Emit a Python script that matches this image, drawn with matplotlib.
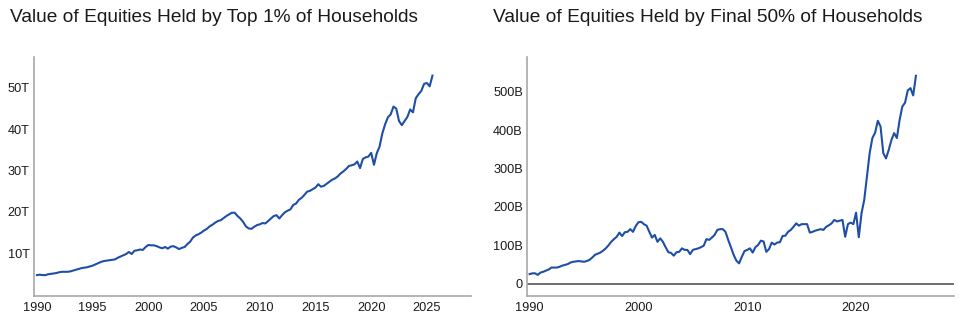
import numpy as np
import matplotlib
matplotlib.use("Agg")
import matplotlib.pyplot as plt
from matplotlib.ticker import FuncFormatter

plt.rcParams['font.family'] = ['Liberation Sans', 'DejaVu Sans']

# Quarterly observations starting 1990.0, step 0.25 year
start_year = 1990.0
top1_trillions = [
    4.7, 4.8, 4.7, 4.7,
    4.9, 5.0, 5.1, 5.2,
    5.4, 5.5, 5.5, 5.5,
    5.6, 5.8, 6.0, 6.2,
    6.4, 6.5, 6.6, 6.8,
    7.0, 7.3, 7.6, 7.9,
    8.1, 8.2, 8.3, 8.4,
    8.5, 8.9, 9.2, 9.5,
    9.8, 10.3, 9.8, 10.6,
    10.7, 10.9, 10.8, 11.5,
    12.0, 11.9, 11.9, 11.7,
    11.4, 11.2, 11.5, 11.1,
    11.6, 11.7, 11.4, 11.0,
    11.3, 11.5, 12.2, 12.8,
    13.8, 14.3, 14.6, 15.0,
    15.5, 15.9, 16.5, 16.9,
    17.4, 17.8, 18.0, 18.5,
    19.0, 19.4, 19.8, 19.8,
    19.0, 18.4, 17.6, 16.5,
    16.0, 15.9, 16.4, 16.8,
    17.0, 17.3, 17.2, 17.8,
    18.4, 19.0, 19.2, 18.4,
    19.2, 19.9, 20.3, 20.6,
    21.7, 22.0, 22.9, 23.4,
    24.1, 24.9, 25.1, 25.5,
    25.9, 26.7, 26.1, 26.3,
    26.8, 27.3, 27.8, 28.1,
    28.6, 29.3, 29.8, 30.4,
    31.1, 31.3, 31.5, 32.2,
    30.6, 32.8, 33.2, 33.4,
    34.3, 31.4, 34.2, 35.8,
    39.0, 41.2, 42.9, 43.6,
    45.5, 45.0, 42.0, 41.0,
    42.0, 43.0, 44.8, 44.1,
    47.5, 48.5, 49.3, 51.0,
    51.2, 50.4, 53.0,
]
bottom50_billions = [
    25, 27, 27, 23,
    29, 31, 34, 37,
    42, 42, 42, 44,
    47, 49, 51, 55,
    57, 58, 59, 58,
    57, 59, 62, 68,
    75, 78, 81, 86,
    92, 100, 109, 116,
    122, 133, 124, 134,
    135, 142, 135, 150,
    160, 161, 155, 151,
    135, 120, 127, 109,
    118, 109, 95, 82,
    80, 73, 82, 83,
    92, 88, 88, 77,
    88, 90, 92, 95,
    99, 116, 114, 120,
    127, 140, 142, 142,
    135, 114, 95, 75,
    60, 53, 70, 85,
    88, 92, 81, 95,
    101, 112, 110, 83,
    90, 107, 102, 107,
    108, 124, 125, 135,
    140, 148, 157, 151,
    155, 155, 155, 133,
    135, 138, 140, 142,
    140, 148, 152, 157,
    166, 162, 164, 166,
    122, 155, 159, 155,
    185, 121, 183, 218,
    279, 340, 379, 393,
    424, 409, 340, 326,
    348, 374, 392, 379,
    426, 461, 471, 503,
    509, 490, 541,
]

left_title = "Value of Equities Held by Top 1% of Households"
right_title = "Value of Equities Held by Final 50% of Households"
left_xticks = [1990, 1995, 2000, 2005, 2010, 2015, 2020, 2025]
right_xticks = [1990, 2000, 2010, 2020]
left_yticks = [10, 20, 30, 40, 50]
right_yticks = [0, 100, 200, 300, 400, 500]

t_left = start_year + 0.25 * np.arange(len(top1_trillions))
t_right = start_year + 0.25 * np.arange(len(bottom50_billions))

W, H = 965, 322
fig = plt.figure(figsize=(W / 100, H / 100), dpi=100)

line_color = '#1f4ea6'
spine_color = '#a8a8a8'
text_color = '#1a1a1a'

def px_axes(x0, x1, y0, y1):
    return fig.add_axes([x0 / W, 1 - y1 / H, (x1 - x0) / W, (y1 - y0) / H])

axL = px_axes(34, 471, 57, 296)
axR = px_axes(527, 954, 57, 296)

for ax in (axL, axR):
    for s in ('top', 'right'):
        ax.spines[s].set_visible(False)
    for s in ('left', 'bottom'):
        ax.spines[s].set_color(spine_color)
        ax.spines[s].set_linewidth(1.2)
    ax.tick_params(length=0, labelsize=9.2, labelcolor=text_color)
    ax.tick_params(axis='y', pad=3)
    ax.tick_params(axis='x', pad=4)
    ax.set_facecolor('white')

axL.plot(t_left, top1_trillions, color=line_color, lw=1.5)
axL.set_xlim(1989.73, 2028.96)
axL.set_ylim(-0.36, 57.5)
axL.set_xticks(left_xticks)
axL.set_yticks(left_yticks)
axL.yaxis.set_major_formatter(FuncFormatter(lambda v, p: f"{int(v)}T"))

axR.axhline(0, color='#555555', lw=1.2, zorder=1)
axR.plot(t_right, bottom50_billions, color=line_color, lw=1.5, zorder=2)
axR.set_xlim(1989.76, 2029.0)
axR.set_ylim(-32, 590)
axR.set_xticks(right_xticks)
axR.set_yticks(right_yticks)
axR.yaxis.set_major_formatter(FuncFormatter(lambda v, p: "0" if v == 0 else f"{int(v)}B"))

fig.text(10 / W, 1 - 18 / H, left_title, fontsize=13.75, color=text_color, va='center', ha='left')
fig.text(493 / W, 1 - 18 / H, right_title, fontsize=13.75, color=text_color, va='center', ha='left')

fig.savefig('out.png', dpi=100, facecolor='white')
